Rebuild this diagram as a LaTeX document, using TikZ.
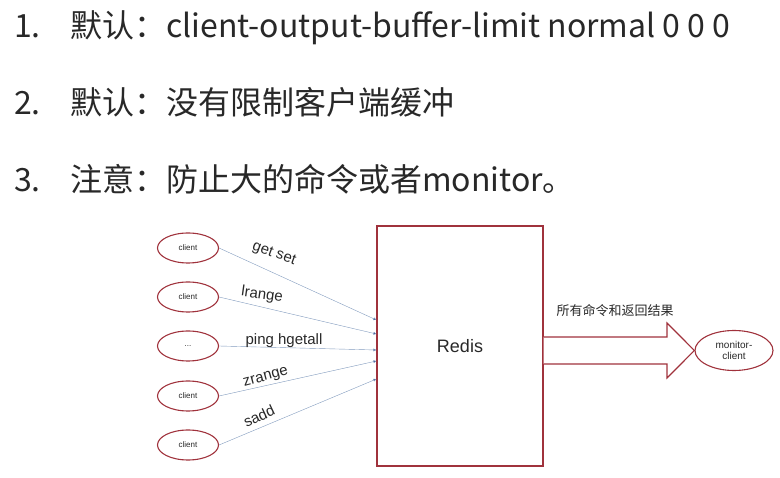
\documentclass[tikz,border=0pt]{standalone}
\usepackage{fontspec}
\usepackage{tikz}
\usetikzlibrary{arrows.meta,positioning,shapes.geometric}
\setmainfont{Liberation Sans}
\newfontfamily\cjk{Noto Sans CJK SC}
\definecolor{ovalred}{RGB}{160,50,60}
\definecolor{linkblue}{RGB}{130,155,190}
\definecolor{tipblue}{RGB}{50,80,150}
\definecolor{textgray}{RGB}{40,40,40}

\begin{document}
\begin{tikzpicture}[x=1pt,y=-1pt,
        item/.style={anchor=base west,inner sep=0pt,text=textgray,font=\cjk\fontsize{32}{32}\selectfont},
        client/.style={ellipse,draw=ovalred,line width=1.1pt,minimum width=61pt,minimum height=30pt,inner sep=0pt,
          font=\fontsize{8}{9}\selectfont,text=textgray},
        server/.style={rectangle,draw=ovalred,line width=1.1pt,minimum width=166pt,minimum height=240pt,
          font=\fontsize{18}{20}\selectfont,text=textgray},
        cmd/.style={inner sep=0pt,font=\fontsize{15}{16}\selectfont,text=textgray},
        link/.style={-{Latex[length=3pt,width=3pt,fill=tipblue]},draw=linkblue,thin},
        bigarrow/.style={draw=ovalred,line width=1.1pt,fill=white,line join=miter}]
  \useasboundingbox (0,0) rectangle (780,478);
  % list of notes
  \node[item] (n1) at (14,38) {1.};
  \node[item] (t1) at (70,38) {默认：client-output-buffer-limit normal 0 0 0};
  \node[item] (n2) at (14,115) {2.};
  \node[item] (t2) at (70,115) {默认：没有限制客户端缓冲};
  \node[item] (n3) at (14,192) {3.};
  \node[item] (t3) at (70,192) {注意：防止大的命令或者monitor。};
  % clients and server
  \node[client] (c1) at (188,248) {client};
  \node[client] (c2) at (188,297) {client};
  \node[client] (c3) at (188,346) {...};
  \node[client] (c4) at (188,396) {client};
  \node[client] (c5) at (188,445) {client};
  \node[server] (redis) at (460,346) {Redis};
  \node[client,minimum width=78pt,minimum height=40pt,font=\fontsize{10}{11}\selectfont,align=center]
    (mon) at (734,350.5) {monitor-\\client};
  \coordinate (in1) at (redis.west |- 0,320);
  \coordinate (in2) at (redis.west |- 0,334);
  \coordinate (in3) at (redis.west |- 0,350);
  \coordinate (in4) at (redis.west |- 0,361);
  \coordinate (in5) at (redis.west |- 0,379);
  \draw[link] (c1.east) -- (in1);
  \draw[link] (c2.east) -- (in2);
  \draw[link] (c3.east) -- (in3);
  \draw[link] (c4.east) -- (in4);
  \draw[link] (c5.east) -- (in5);
  \node[cmd,rotate=-20] (l1) at (274,254) {get set};
  \node[cmd,rotate=-8] (l2) at (262,295) {lrange};
  \node[cmd] (l3) at (284,341) {ping hgetall};
  \node[cmd,rotate=15] (l4) at (266,378) {zrange};
  \node[cmd,rotate=25] (l5) at (259,416) {sadd};
  % output to monitor
  \draw[bigarrow] (redis.east |- 0,337) -- (667,337) -- (667,323) -- (mon.west)
    -- (667,378) -- (667,364) -- (redis.east |- 0,364);
  \node[text=textgray,font=\cjk\fontsize{13}{14}\selectfont] (out) at (615,311) {所有命令和返回结果};
\end{tikzpicture}
\end{document}
